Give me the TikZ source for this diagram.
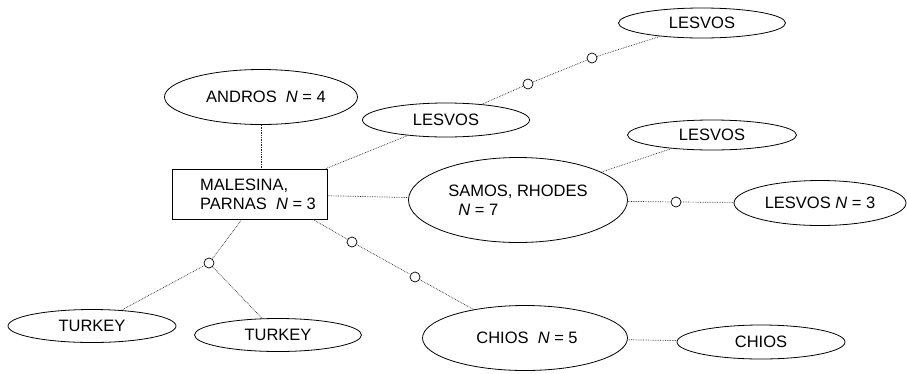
\documentclass[tikz,border=0pt]{standalone}
\usepackage{fontspec}
\setmainfont{Liberation Sans}
\usetikzlibrary{shapes.geometric}
\begin{document}
\begin{tikzpicture}[x=1pt,y=-1pt,
  font=\fontsize{16.5}{19}\selectfont,
  isle/.style={ellipse, draw, line width=0.8pt, inner sep=0pt},
  site/.style={rectangle, draw, line width=0.8pt},
  junction/.style={circle, draw, line width=0.7pt, inner sep=0pt, minimum size=10pt, fill=white},
  link/.style={draw=black!85, densely dotted, line width=0.7pt}]
\useasboundingbox (0,0) rectangle (907,373);

% islands and regions
\node[isle, minimum width=167, minimum height=30] (lesT) at (702,23) {LESVOS};
\node[isle, minimum width=193, minimum height=55] (andros) at (261,97) {\hspace*{10pt}ANDROS\ \ \textit{N} = 4};
\node[isle, minimum width=167, minimum height=34] (lesM) at (446,120) {LESVOS};
\node[site, minimum width=155, minimum height=50] (mal) at (250,194) {};
\node[align=left, anchor=west, inner sep=0pt] (maltext) at (200,194) {MALESINA,\\PARNAS\ \ \textit{N} = 3};
\node[isle, minimum width=219, minimum height=85, align=left] (samos) at (518,200) {SAMOS, RHODES\\\hspace{10pt}\textit{N} = 7};
\node[isle, minimum width=169, minimum height=30] (lesR) at (712,135) {LESVOS};
\node[isle, minimum width=172, minimum height=45] (lesN) at (820,203) {LESVOS \textit{N} = 3};
\node[isle, minimum width=168, minimum height=33] (turkL) at (92,326) {TURKEY};
\node[isle, minimum width=167, minimum height=33] (turkR) at (278,335) {TURKEY};
\node[isle, minimum width=205, minimum height=65] (chios) at (525,338) {\hspace*{4pt}CHIOS\ \ \textit{N} = 5};
\node[isle, minimum width=168, minimum height=34] (chiosR) at (761,342) {CHIOS};

% intermediate steps
\node[junction] (j1) at (528,84) {};
\node[junction] (j2) at (592,58) {};
\node[junction] (j3) at (676,202) {};
\node[junction] (j4) at (209,263) {};
\node[junction] (j5) at (352,242) {};
\node[junction] (j6) at (415,277) {};

% connections
\draw[link] (andros.south) -- (andros.south |- mal.north);
\draw[link] ([xshift=-2pt]mal.north east) -- (lesM);
\draw[link] (lesM) -- (j1) -- (j2) -- (lesT);
\draw[link] (mal) -- (samos);
\draw[link] (samos) -- (lesR);
\draw[link] (samos) -- (j3) -- (lesN);
\draw[link] ([xshift=-8pt]mal.south) -- (j4);
\draw[link] (j4) -- (turkL);
\draw[link] (j4) -- (turkR);
\draw[link] ([xshift=63pt]mal.south) -- (j5) -- (j6) -- (chios);
\draw[link] (chios) -- (chiosR);
\end{tikzpicture}
\end{document}
